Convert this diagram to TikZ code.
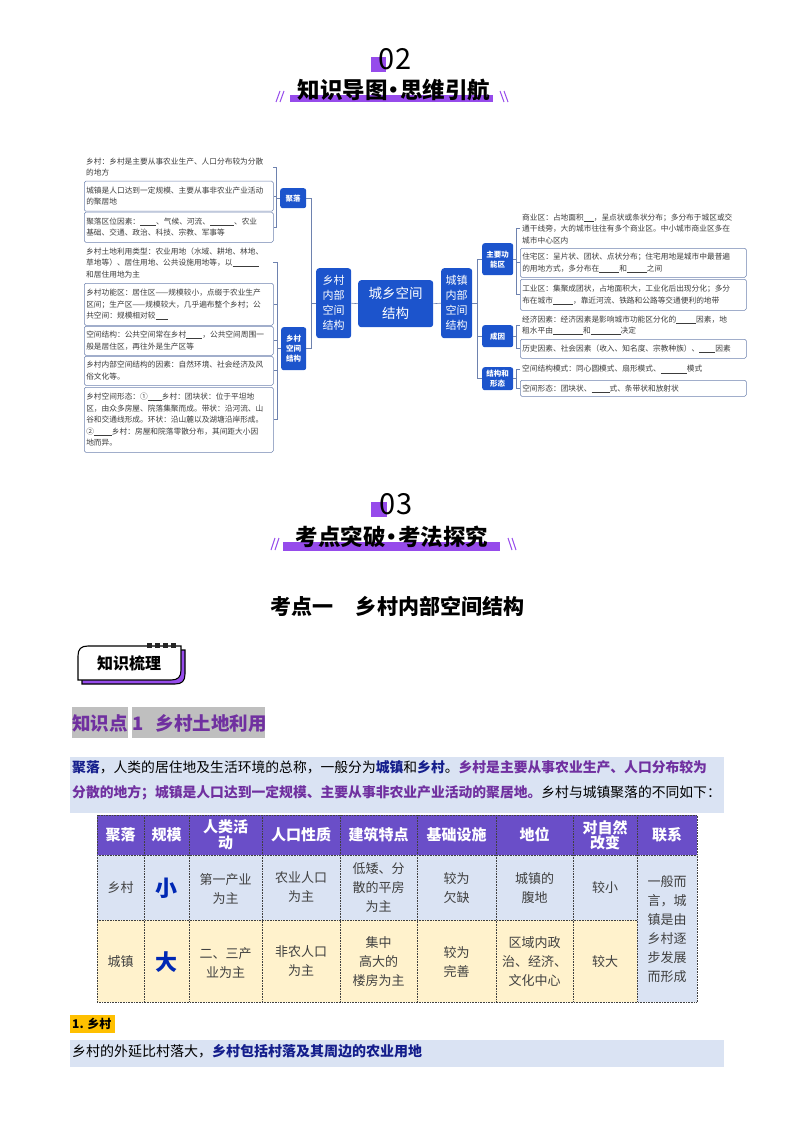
\documentclass[tikz,border=0pt]{standalone}
\usepackage{fontspec}
\setmainfont{Noto Sans CJK SC}
\definecolor{mblue}{RGB}{28,84,204}
\definecolor{mline}{RGB}{110,130,175}
\definecolor{mtxt}{RGB}{60,60,60}
\definecolor{hpurple}{RGB}{150,75,235}
\definecolor{tpurple}{RGB}{106,78,200}
\definecolor{lblue}{RGB}{218,227,243}
\definecolor{lyel}{RGB}{255,242,204}
\definecolor{ppurple}{RGB}{112,48,160}
\definecolor{navy}{RGB}{20,30,140}
\definecolor{hgray}{RGB}{191,191,191}
\definecolor{lorange}{RGB}{255,192,0}
\definecolor{bigblue}{RGB}{0,40,180}
\definecolor{ttxt}{RGB}{64,64,64}
\newcommand{\blank}[1]{\rule[-1pt]{#1pt}{0.4pt}}
\newcommand{\hdot}{\kern-5pt•\kern-5pt}
\begin{document}
\begin{tikzpicture}[x=1pt,y=-1pt,
  mt/.style={font=\fontsize{7.7}{11.6}\selectfont, text=mtxt, align=left, inner sep=2pt, anchor=north west},
  fbox/.style={mt, draw=mline, line width=0.5pt, rounded corners=1.5pt},
  nbox/.style={mt},
  bn/.style={fill=mblue, text=white, align=center, rounded corners=2.5pt, inner sep=0pt, anchor=north west, font=\fontsize{7.5}{10}\selectfont\bfseries},
  bigbn/.style={fill=mblue, text=white, align=center, rounded corners=3pt, inner sep=0pt, anchor=north west, font=\fontsize{11}{15}\selectfont},
  conn/.style={draw=mline, line width=0.6pt},
  hnum/.style={font=\fontsize{29}{30}\selectfont, text=black},
  htitle/.style={font=\fontsize{22.5}{23}\selectfont\bfseries, text=black},
  slash/.style={draw=hpurple, line width=1pt},
  thead/.style={font=\fontsize{15}{16}\selectfont\bfseries, text=white, align=center},
  tcell/.style={font=\fontsize{13}{19}\selectfont, text=ttxt, align=center},
  tbig/.style={font=\fontsize{22}{24}\selectfont\bfseries, text=bigblue},
  grid/.style={draw=black!75, line width=0.6pt, densely dotted}
]
\useasboundingbox (0,0) rectangle (794,1123);

% ===== header 02 =====
\fill[hpurple] (371,57) rectangle (386,72);
\node[hnum] (n02) at (395,59) {02};
\fill[hpurple] (290,95) rectangle (493,102);
\node[htitle] (t02) at (394,90) {知识导图\hdot 思维引航};
\draw[slash] (276,102) -- (280,91);
\draw[slash] (280,102) -- (284,91);
\draw[slash] (500,91) -- (504,102);
\draw[slash] (504,91) -- (508,102);

% ===== mind map =====
\node[nbox, text width=185, minimum height=28] (b1) at (84,153) {乡村：乡村是主要从事农业生产、人口分布较为分散\\的地方};
\node[fbox, text width=185, minimum height=30] (b2) at (84,181) {城镇是人口达到一定规模、主要从事非农业产业活动\\的聚居地};
\node[fbox, text width=185, minimum height=30] (b3) at (84,212) {聚落区位因素：\blank{16}、气候、河流、\blank{24}、农业\\基础、交通、政治、科技、宗教、军事等};
\node[nbox, text width=185, minimum height=37] (b4) at (84,244) {乡村土地利用类型：农业用地（水域、耕地、林地、\\草地等）、居住用地、公共设施用地等，以\blank{26}\\和居住用地为主};
\node[fbox, text width=185, minimum height=42] (b5) at (84,283) {乡村功能区：居住区——规模较小，点缀于农业生产\\区间；生产区——规模较大，几乎遍布整个乡村；公\\共空间：规模相对较\blank{12}};
\node[fbox, text width=185, minimum height=29] (b6) at (84,326) {空间结构：公共空间常在乡村\blank{16}，公共空间周围一\\般是居住区，再往外是生产区等};
\node[fbox, text width=185, minimum height=29] (b7) at (84,356) {乡村内部空间结构的因素：自然环境、社会经济及风\\俗文化等。};
\node[fbox, text width=185, minimum height=65] (b8) at (84,387) {乡村空间形态：①\blank{14}乡村：团块状：位于平坦地\\区，由众多房屋、院落集聚而成。带状：沿河流、山\\谷和交通线形成。环状：沿山麓以及湖塘沿岸形成。\\②\blank{18}乡村：房屋和院落零散分布，其间距大小因\\地而异。};

\node[bn, minimum width=26, minimum height=20] (jl) at (280,188) {聚落};
\node[bn, minimum width=25, minimum height=43] (kl) at (281,327) {乡村\\空间\\结构};
\node[bigbn, minimum width=35, minimum height=70] (xl) at (316,268) {乡村\\内部\\空间\\结构};
\node[bigbn, minimum width=75, minimum height=47, font=\fontsize{13.5}{20}\selectfont] (c) at (358,280) {城乡空间\\结构};
\node[bigbn, minimum width=31, minimum height=70] (xr) at (441,268) {城镇\\内部\\空间\\结构};
\node[bn, minimum width=31, minimum height=32] (zy) at (482,243) {主要功\\能区};
\node[bn, minimum width=31, minimum height=22] (cy) at (482,325) {成因};
\node[bn, minimum width=31, minimum height=23] (jg) at (482,367) {结构和\\形态};

\node[nbox, text width=222, minimum height=37] (r1) at (520,210) {商业区：占地面积\blank{10}，呈点状或条状分布；多分布于城区或交\\通干线旁，大的城市往往有多个商业区。中小城市商业区多在\\城市中心区内};
\node[fbox, text width=222, minimum height=29] (r2) at (520,248) {住宅区：呈片状、团状、点状分布；住宅用地是城市中最普遍\\的用地方式，多分布在\blank{20}和\blank{20}之间};
\node[fbox, text width=222, minimum height=31] (r3) at (520,279) {工业区：集聚成团状，占地面积大，工业化后出现分化；多分\\布在城市\blank{20}，靠近河流、铁路和公路等交通便利的地带};
\node[nbox, text width=222, minimum height=26] (r4) at (520,312) {经济因素：经济因素是影响城市功能区分化的\blank{20}因素，地\\租水平由\blank{30}和\blank{30}决定};
\node[fbox, text width=222, minimum height=19] (r5) at (520,339) {历史因素、社会因素（收入、知名度、宗教种族）、\blank{16}因素};
\node[nbox, text width=222, minimum height=18] (r6) at (520,360) {空间结构模式：同心圆模式、扇形模式、\blank{26}模式};
\node[fbox, text width=222, minimum height=16] (r7) at (520,380) {空间形态：团块状、\blank{18}式、条带状和放射状};

\draw[conn] (c.west) -- (xl.east);
\draw[conn] (c.east) -- (xr.west);
\draw[conn] (xl.west) -- ++(-5,0) |- (jl.east);
\draw[conn] (xl.west) -- ++(-5,0) |- (kl.east);
\foreach \b in {b1,b2,b3} \draw[conn] (jl.west) -- ++(-4,0) |- (\b.east);
\foreach \b in {b4,b5,b6,b7,b8} \draw[conn] (kl.west) -- ++(-4,0) |- (\b.east);
\draw[conn] (xr.east) -- ++(5,0) |- (zy.west);
\draw[conn] (xr.east) -- ++(5,0) |- (cy.west);
\draw[conn] (xr.east) -- ++(5,0) |- (jg.west);
\foreach \b in {r1,r2,r3} \draw[conn] (zy.east) -- ++(3,0) |- (\b.west);
\foreach \b in {r4,r5} \draw[conn] (cy.east) -- ++(3,0) |- (\b.west);
\foreach \b in {r6,r7} \draw[conn] (jg.east) -- ++(3,0) |- (\b.west);

% ===== header 03 =====
\fill[hpurple] (371,502) rectangle (387,517);
\node[hnum] (n03) at (396,504) {03};
\fill[hpurple] (283,542) rectangle (500,551);
\node[htitle] (t03) at (392,537) {考点突破\hdot 考法探究};
\draw[slash] (271,550) -- (275,538);
\draw[slash] (275,550) -- (279,538);
\draw[slash] (508,538) -- (512,550);
\draw[slash] (512,538) -- (516,550);

\node[font=\fontsize{21}{22}\selectfont\bfseries] (kd) at (397,606) {考点一\hspace{23pt}乡村内部空间结构};

% ===== badge =====
\draw[line width=1.1pt, fill=hpurple] (82,684) -- (82,660) .. controls (82,653) and (85,650) .. (92,650) -- (185,650) -- (185,674) .. controls (185,681) and (182,684) .. (175,684) -- cycle;
\draw[line width=1.1pt, fill=white] (78,680) -- (78,656) .. controls (78,649) and (81,646) .. (88,646) -- (181,646) -- (181,670) .. controls (181,677) and (178,680) .. (171,680) -- cycle;
\foreach \x in {147,155,163,171} \fill[black!85] (\x,643) rectangle ++(5,5);
\node[font=\fontsize{16}{17}\selectfont\bfseries] (zs) at (129,663) {知识梳理};

% ===== knowledge point heading =====
\fill[hgray] (72,707) rectangle (128,738);
\fill[hgray] (132,707) rectangle (265,738);
\node[anchor=west, inner sep=0pt, font=\fontsize{18.5}{20}\selectfont\bfseries, text=ppurple] (kp) at (72,723) {知识点\hspace{5pt}1\hspace{12pt}乡村土地利用};

% ===== paragraph =====
\fill[lblue] (70,757) rectangle (724,813);
\node[anchor=west, inner sep=0pt, font=\fontsize{13.8}{15}\selectfont] (p1) at (72,767) {\textcolor{navy}{\bfseries 聚落}，人类的居住地及生活环境的总称，一般分为\textcolor{navy}{\bfseries 城镇}和\textcolor{navy}{\bfseries 乡村}。\textcolor{ppurple}{\bfseries 乡村是主要从事农业生产、人口分布较为}};
\node[anchor=west, inner sep=0pt, font=\fontsize{13.8}{15}\selectfont] (p2) at (72,793) {\textcolor{ppurple}{\bfseries 分散的地方；城镇是人口达到一定规模、主要从事非农业产业活动的聚居地。}乡村与城镇聚落的不同如下：};

% ===== table =====
\fill[tpurple] (97,815) rectangle (697,855);
\fill[lblue] (97,855) rectangle (637,920);
\fill[lyel] (97,920) rectangle (637,1002);
\fill[lblue] (637,855) rectangle (697,1002);
\draw[grid] (97,815) rectangle (697,1002);
\draw[grid] (97,855) -- (697,855);
\draw[grid] (97,920) -- (637,920);
\foreach \x in {144,189,262,340,417,496,573,637} \draw[grid] (\x,815) -- (\x,1002);

\node[thead] (h1) at (120.5,835) {聚落};
\node[thead] (h2) at (166.5,835) {规模};
\node[thead, font=\fontsize{15}{15.5}\selectfont\bfseries] (h3) at (225.5,835) {人类活\\动};
\node[thead] (h4) at (301,835) {人口性质};
\node[thead] (h5) at (378.5,835) {建筑特点};
\node[thead] (h6) at (456.5,835) {基础设施};
\node[thead] (h7) at (534.5,835) {地位};
\node[thead, font=\fontsize{15}{15.5}\selectfont\bfseries] (h8) at (605,835) {对自然\\改变};
\node[thead] (h9) at (667,835) {联系};

\node[tcell] (a1) at (120.5,888) {乡村};
\node[tbig] (a2) at (166.5,888) {小};
\node[tcell] (a3) at (225.5,889) {第一产业\\为主};
\node[tcell] (a4) at (301,887) {农业人口\\为主};
\node[tcell] (a5) at (378.5,888) {低矮、分\\散的平房\\为主};
\node[tcell] (a6) at (456.5,888) {较为\\欠缺};
\node[tcell] (a7) at (534.5,888) {城镇的\\腹地};
\node[tcell] (a8) at (605,888) {较小};

\node[tcell] (c1) at (120.5,962) {城镇};
\node[tbig] (c2) at (166.5,962) {大};
\node[tcell] (c3) at (225.5,963) {二、三产\\业为主};
\node[tcell] (c4) at (301,961) {非农人口\\为主};
\node[tcell] (c5) at (378.5,962) {集中\\高大的\\楼房为主};
\node[tcell] (c6) at (456.5,962) {较为\\完善};
\node[tcell] (c7) at (534.5,962) {区域内政\\治、经济、\\文化中心};
\node[tcell] (c8) at (605,962) {较大};
\node[tcell] (lx) at (667,929) {一般而\\言，城\\镇是由\\乡村逐\\步发展\\而形成};

% ===== bottom =====
\fill[lorange] (70,1015) rectangle (115,1033);
\node[anchor=west, inner sep=0pt, font=\fontsize{12}{13}\selectfont\bfseries] (s1) at (72,1024) {1. 乡村};
\fill[lblue] (70,1040) rectangle (724,1067);
\node[anchor=west, inner sep=0pt, font=\fontsize{14}{15}\selectfont] (s2) at (72,1051) {乡村的外延比村落大，\textcolor{navy}{\bfseries 乡村包括村落及其周边的农业用地}};
\end{tikzpicture}
\end{document}
